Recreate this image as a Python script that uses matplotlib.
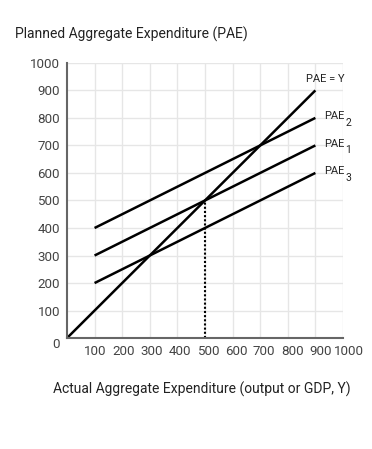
import matplotlib.pyplot as plt
import matplotlib.transforms as mtransforms
import numpy as np

plt.rcParams['font.family'] = ['Roboto', 'DejaVu Sans']

# lines: (x start, x end), intercept, slope
x_pae_y = [0, 900]
x_pae = [100, 900]
intercepts = {'2': 350, '1': 250, '3': 150}
slope = 0.5
eq_x = 500
eq_y = 500
ticks = [100, 200, 300, 400, 500, 600, 700, 800, 900, 1000]
yticks = [0, 100, 200, 300, 400, 500, 600, 700, 800, 900, 1000]

fig = plt.figure(figsize=(3.72, 4.49), dpi=100)
ax = fig.add_axes([0.180, 0.247, 0.742, 0.613])

ax.plot(x_pae_y, x_pae_y, color='black', lw=1.8, solid_capstyle='butt')
for sub, b in intercepts.items():
    xs = np.array(x_pae)
    ax.plot(xs, b + slope * xs, color='black', lw=1.8, solid_capstyle='butt')
    yl = b + slope * 900 + 6
    ax.text(930, yl, 'PAE', fontsize=8, color='#222222', va='center')
    ax.annotate(sub, (930, yl), xytext=(15.5, -4.5), textcoords='offset points',
                fontsize=7.5, color='#222222', va='center')
ax.text(865, 940, 'PAE = Y', fontsize=8, color='#222222', va='center')

ax.plot([eq_x, eq_x], [0, eq_y], color='black', lw=1.5, linestyle=(0, (1, 1)))

ax.set_xlim(0, 1000)
ax.set_ylim(0, 1000)
ax.set_xticks(ticks)
ax.set_yticks(yticks)
ax.grid(True, color='#e6e6e6', lw=1)
ax.set_axisbelow(True)
for s in ['top', 'right']:
    ax.spines[s].set_visible(False)
for s in ['left', 'bottom']:
    ax.spines[s].set_color('#666666')
    ax.spines[s].set_linewidth(1.5)
ax.tick_params(length=0, labelsize=9.6, labelcolor='#444444', pad=5)
ax.get_yticklabels()[0].set_va('top')
for i, t in enumerate(ax.get_xticklabels()):
    t.set_transform(t.get_transform() + mtransforms.ScaledTranslation((1 + 0.5 * i) / 100, 0, fig.dpi_scale_trans))

fig.text(0.04, 0.923, 'Planned Aggregate Expenditure (PAE)', fontsize=10, color='#222222', va='center')
fig.text(0.542, 0.132, 'Actual Aggregate Expenditure (output or GDP, Y)', fontsize=10, color='#222222', ha='center', va='center')

fig.savefig('out.png', dpi=100)
